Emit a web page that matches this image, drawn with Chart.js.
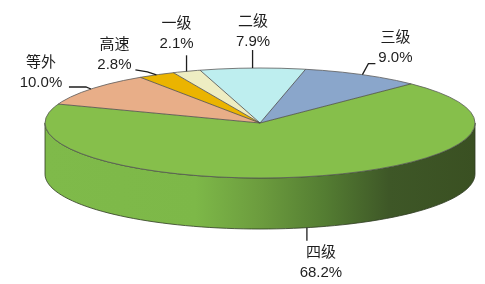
<!DOCTYPE html>
<html>
<head>
<meta charset="utf-8">
<script src="https://cdn.jsdelivr.net/npm/chart.js@4"></script>
<style>
  html, body { margin: 0; padding: 0; background: #fff; }
  #wrap { width: 485px; height: 284px; }
</style>
</head>
<body>
<div id="wrap"><canvas id="chartRoad"></canvas></div>
<script>
const LABELS = ['二级', '三级', '四级', '等外', '高速', '一级'];
const VALUES = [7.9, 9.0, 68.2, 10.0, 2.8, 2.1];
const COLORS = ['#BEEEEF', '#8AA6CB', '#86BF4B', '#E8AE88', '#EBB400', '#EEEDC2'];

// where the flattened pie sits on the page
const CX = 260, CY = 123, RX = 215, RY = 55, DEPTH = 51;

// leader line bends and text centre, relative to the slice anchor
const LABEL_POS = [
    { path: [[0, -18]],            text: [0.5, -36] },
    { path: [[6, -11], [13, -11]], text: [33, -26.6] },
    { path: [[0, 13]],             text: [14, 35] },
    { path: [[-5, -2], [-22, -2]], text: [-50, -16] },
    { path: [[-9, -3], [-21, -5]], text: [-42, -20] },
    { path: [[0, -16]],            text: [-10, -37] },
];

const FONT = "15px 'Liberation Sans', Arial, 'Noto Sans CJK SC', sans-serif";

const ex = a => CX + RX * Math.cos(a);
const ey = a => CY + RY * Math.sin(a);

const pie3d = {
    id: 'pie3d',
    beforeDatasetsDraw(chart) {
        const ctx = chart.ctx;
        const arcs = chart.getDatasetMeta(0).data;

        // side wall, only the front half is visible
        arcs.forEach((arc, i) => {
            for (let k = -1; k <= 1; k++) {
                const s = Math.max(arc.startAngle, 2 * Math.PI * k);
                const e = Math.min(arc.endAngle, 2 * Math.PI * k + Math.PI);
                if (e <= s) continue;
                const g = ctx.createLinearGradient(CX - RX, 0, CX + RX, 0);
                g.addColorStop(0, '#7FBA4A');
                g.addColorStop(0.35, '#7DB848');
                g.addColorStop(0.5, '#6C9C3E');
                g.addColorStop(0.65, '#547D32');
                g.addColorStop(0.8, '#3E5727');
                g.addColorStop(1, '#3A5022');
                ctx.save();
                ctx.beginPath();
                const n = 80;
                for (let j = 0; j <= n; j++) {
                    const a = s + (e - s) * j / n;
                    j ? ctx.lineTo(ex(a), ey(a)) : ctx.moveTo(ex(a), ey(a));
                }
                for (let j = n; j >= 0; j--) {
                    const a = s + (e - s) * j / n;
                    ctx.lineTo(ex(a), ey(a) + DEPTH);
                }
                ctx.closePath();
                ctx.fillStyle = i === 2 ? g : COLORS[i];
                ctx.fill();
                ctx.strokeStyle = '#2F3B22';
                ctx.lineWidth = 0.8;
                ctx.stroke();
                ctx.restore();
            }
        });

        // squash the library's circle into the ellipse
        const a0 = arcs[0];
        const R = a0.outerRadius;
        ctx.save();
        ctx.translate(CX, CY);
        ctx.scale(RX / R, RY / R);
        ctx.translate(-a0.x, -a0.y);
    },
    afterDatasetsDraw(chart) {
        const ctx = chart.ctx;
        ctx.restore();
        const arcs = chart.getDatasetMeta(0).data;

        // slice edges and rim
        ctx.save();
        ctx.strokeStyle = '#4A4A4A';
        ctx.lineWidth = 0.8;
        arcs.forEach(arc => {
            ctx.beginPath();
            ctx.moveTo(CX, CY);
            ctx.lineTo(ex(arc.startAngle), ey(arc.startAngle));
            ctx.stroke();
        });
        ctx.beginPath();
        ctx.ellipse(CX, CY, RX, RY, 0, 0, 2 * Math.PI);
        ctx.strokeStyle = '#5A5A5A';
        ctx.stroke();
        ctx.restore();

        // labels
        ctx.save();
        ctx.font = FONT;
        ctx.fillStyle = '#1E1E1E';
        ctx.strokeStyle = '#1E1E1E';
        ctx.lineWidth = 1.3;
        ctx.textAlign = 'center';
        ctx.textBaseline = 'middle';
        arcs.forEach((arc, i) => {
            const mid = (arc.startAngle + arc.endAngle) / 2;
            let ax = ex(mid), ay = ey(mid);
            if (Math.sin(mid) > 0) ay += DEPTH;
            const lp = LABEL_POS[i];
            ctx.beginPath();
            ctx.moveTo(ax, ay);
            lp.path.forEach(p => ctx.lineTo(ax + p[0], ay + p[1]));
            ctx.stroke();
            const tx = ax + lp.text[0], ty = ay + lp.text[1];
            ctx.fillText(LABELS[i], tx, ty - 10);
            ctx.fillText(VALUES[i].toFixed(1) + '%', tx, ty + 10);
        });
        ctx.restore();
    }
};

new Chart(document.getElementById('chartRoad'), {
    type: 'pie',
    data: {
        labels: LABELS,
        datasets: [{
            data: VALUES,
            backgroundColor: COLORS,
            borderWidth: 0,
            clip: false,
        }]
    },
    options: {
        responsive: true,
        maintainAspectRatio: false,
        animation: false,
        events: [],
        rotation: -16.2,
        plugins: {
            legend: { display: false },
            tooltip: { enabled: false }
        }
    },
    plugins: [pie3d]
});
</script>
</body>
</html>
